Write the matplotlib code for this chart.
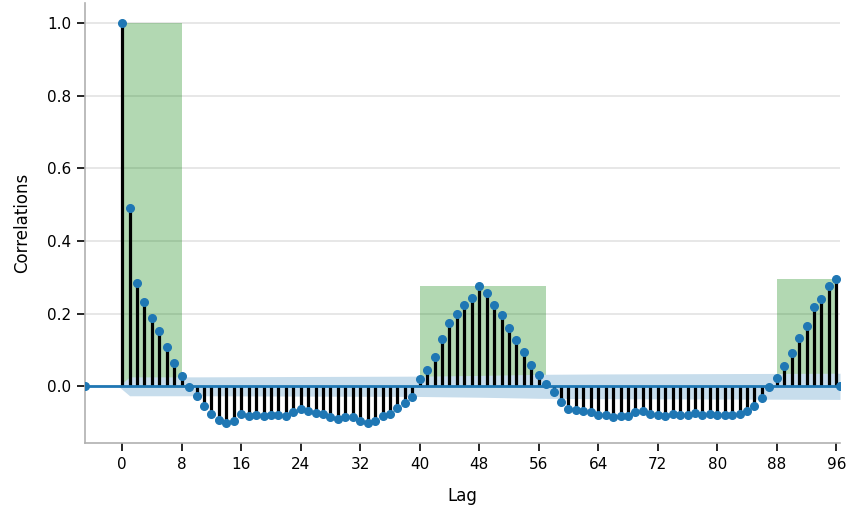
import matplotlib
matplotlib.use("Agg")
import matplotlib.pyplot as plt
import numpy as np

# autocorrelation values for lags 0..96
lags = list(range(97))
acf = [1.0, 0.490, 0.285, 0.231, 0.189, 0.151, 0.107, 0.063, 0.029, -0.002,
       -0.027, -0.055, -0.075, -0.094, -0.100, -0.096, -0.075, -0.083, -0.080, -0.083,
       -0.078, -0.080, -0.083, -0.070, -0.063, -0.067, -0.073, -0.076, -0.085, -0.091,
       -0.085, -0.085, -0.095, -0.101, -0.096, -0.083, -0.075, -0.060, -0.047, -0.030,
       0.020, 0.046, 0.082, 0.129, 0.175, 0.200, 0.224, 0.244, 0.277, 0.257,
       0.224, 0.196, 0.160, 0.128, 0.095, 0.060, 0.032, 0.005, -0.017, -0.044,
       -0.062, -0.064, -0.068, -0.070, -0.078, -0.078, -0.084, -0.083, -0.081, -0.072,
       -0.069, -0.075, -0.080, -0.083, -0.075, -0.080, -0.080, -0.073, -0.078, -0.076,
       -0.078, -0.080, -0.078, -0.075, -0.069, -0.053, -0.031, -0.003, 0.022, 0.055,
       0.093, 0.134, 0.165, 0.217, 0.239, 0.276, 0.295]

# confidence band half-width, read at a few lags
band_lags = [-0.5, 1, 10, 24, 40, 48, 56, 64, 96.5]
band_half = [0.0, 0.026, 0.026, 0.027, 0.028, 0.030, 0.033, 0.034, 0.036]

# highlighted seasonal windows (start lag, end lag)
regions = [(0, 8), (40, 57), (88, 96)]

xtick_labels = list(range(0, 97, 8))
ytick_labels = [0.0, 0.2, 0.4, 0.6, 0.8, 1.0]


def plot_acf(file_name: str) -> None:
    fig, ax = plt.subplots(figsize=(8.49, 5.12), dpi=100)
    fig.subplots_adjust(left=0.1001, right=0.9894, bottom=0.1348, top=0.994)

    acf_arr = np.array(acf)
    lag_arr = np.array(lags)

    # green windows, height = peak correlation inside window
    for start, end in regions:
        mask = (lag_arr >= start) & (lag_arr <= end)
        ax.bar(start, acf_arr[mask].max(), width=end - start, align="edge",
               color="green", alpha=0.3, linewidth=0, zorder=1)

    band = np.array(band_half)
    ax.fill_between(band_lags, -band, band, color="#c7ddec", linewidth=0, zorder=2)

    ax.vlines(lag_arr, 0, acf_arr, color="black", linewidth=2.3, zorder=3)
    ax.axhline(0, color="#1f77b4", linewidth=2, marker="o", markersize=5.5, zorder=4)
    ax.plot(lag_arr, acf_arr, "o", color="#1f77b4", markersize=5.5, zorder=5)

    ax.set_xlim(-5, 96.5)
    ax.set_ylim(-0.156, 1.055)
    ax.set_xticks(xtick_labels)
    ax.set_yticks(ytick_labels)
    ax.set_yticklabels([f"{v:.1f}" for v in ytick_labels])
    ax.tick_params(labelsize=11, length=6, width=1.2, pad=4, color="black")
    ax.yaxis.grid(True, color="#e3e3e3", linewidth=1.2)
    ax.set_axisbelow(True)

    for side in ["top", "right"]:
        ax.spines[side].set_visible(False)
    for side in ["left", "bottom"]:
        ax.spines[side].set_color("#b0b0b0")
        ax.spines[side].set_linewidth(1.2)

    ax.set_xlabel("Lag", fontsize=12, labelpad=11)
    ax.set_ylabel("Correlations", fontsize=12, labelpad=11)
    plt.savefig(file_name, dpi=100)


plot_acf("out.png")
